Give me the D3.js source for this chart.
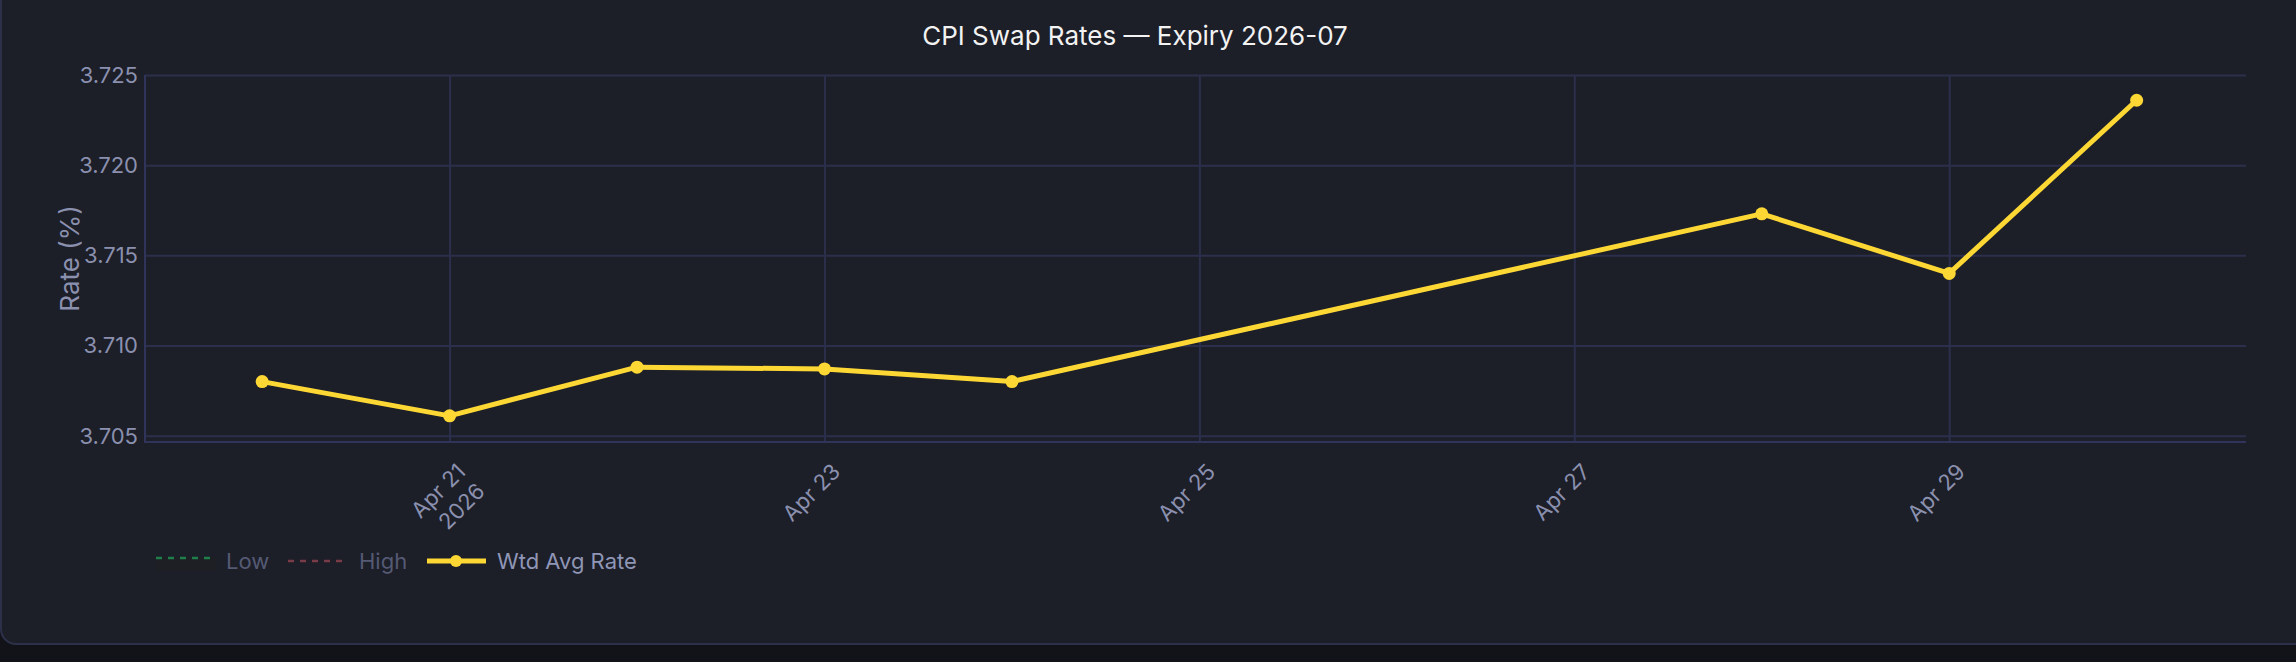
<!DOCTYPE html>
<html>
<head>
<meta charset="utf-8">
<script src="https://cdn.jsdelivr.net/npm/d3@7"></script>
<style>
  html, body { margin: 0; padding: 0; background: #121318; overflow: hidden; }
  #card {
    position: absolute; left: 0; top: -20px;
    width: 2400px; height: 665px;
    background: #1c1e28;
    border: 2px solid #2d3049;
    border-radius: 16px;
    box-sizing: border-box;
  }
  #chart { position: absolute; left: 0; top: 0; }
  text { font-family: Inter, "Noto Sans", sans-serif; }
</style>
</head>
<body>
<div id="card"></div>
<div id="chart"></div>
<script>
var dates = ['2026-04-20', '2026-04-21', '2026-04-22', '2026-04-23', '2026-04-24', '2026-04-28', '2026-04-29', '2026-04-30']
var rates = [3.7080, 3.7061, 3.7088, 3.7087, 3.7080, 3.7173, 3.7140, 3.7236]

var yTicks = [3.705, 3.710, 3.715, 3.720, 3.725]
var xTicks = ['2026-04-21', '2026-04-23', '2026-04-25', '2026-04-27', '2026-04-29']

var legendNames = ['Low', 'High', 'Wtd Avg Rate']

var W = 2296, H = 662
var margin = { top: 75, left: 145, right: 50, bottom: 220 }
var plotRight = W - margin.right
var plotBottom = H - margin.bottom

var parse = d3.timeParse('%Y-%m-%d')
var data = dates.map(function(d, i) {
	return { date: parse(d), rate: rates[i] }
})

var svg = d3.select('#chart').append('svg')
	.attr('width', W)
	.attr('height', H)

var xScale = d3.scaleTime()
	.domain([d3.timeHour.offset(parse('2026-04-20'), -14.4), d3.timeHour.offset(parse('2026-04-30'), 14.4)])
	.range([margin.left, plotRight])

var yScale = d3.scaleLinear()
	.domain([3.70465, 3.725])
	.range([plotBottom, margin.top])

var gridColor = '#2c2f4b'
var tickColor = '#8a90ae'

// title
svg.append('text')
	.attr('x', 1135)
	.attr('y', 45)
	.attr('text-anchor', 'middle')
	.attr('fill', '#f2f2f2')
	.style('font-size', '26px')
	.text('CPI Swap Rates — Expiry 2026-07')

// horizontal grid
svg.append('g')
	.attr('transform', 'translate(' + margin.left + ',0)')
	.call(d3.axisLeft(yScale).tickValues(yTicks).tickSize(-(plotRight - margin.left)).tickFormat(''))
	.call(function(g) {
		g.select('.domain').remove()
		g.selectAll('line').attr('stroke', gridColor).attr('stroke-width', 2)
	})

// vertical grid
svg.append('g')
	.attr('transform', 'translate(0,' + plotBottom + ')')
	.call(d3.axisBottom(xScale).tickValues(xTicks.map(parse)).tickSize(-(plotBottom - margin.top)).tickFormat(''))
	.call(function(g) {
		g.select('.domain').remove()
		g.selectAll('line').attr('stroke', gridColor).attr('stroke-width', 2)
	})

// axis lines
svg.append('line')
	.attr('x1', margin.left).attr('x2', margin.left)
	.attr('y1', margin.top).attr('y2', plotBottom + 1)
	.attr('stroke', '#30345a').attr('stroke-width', 2)
svg.append('line')
	.attr('x1', margin.left).attr('x2', plotRight)
	.attr('y1', plotBottom).attr('y2', plotBottom)
	.attr('stroke', '#30345a').attr('stroke-width', 2)

// y tick labels
svg.append('g').selectAll('text')
	.data(yTicks)
	.enter().append('text')
	.attr('x', 138)
	.attr('y', function(d) { return yScale(d) })
	.attr('dy', '0.36em')
	.attr('text-anchor', 'end')
	.attr('fill', tickColor)
	.style('font-size', '22px')
	.text(d3.format('.3f'))

// x tick labels, rotated
var fmt = d3.timeFormat('%b %d')
var xl = svg.append('g').selectAll('g')
	.data(xTicks.map(parse))
	.enter().append('g')
	.attr('transform', function(d) {
		return 'translate(' + (xScale(d) + 6) + ',' + (plotBottom + 20) + ') rotate(-45)'
	})
var xt = xl.append('text')
	.attr('text-anchor', 'end')
	.attr('fill', tickColor)
	.style('font-size', '22px')
xt.append('tspan')
	.attr('x', 0)
	.attr('dy', '0.72em')
	.text(function(d) { return fmt(d) })
xt.filter(function(d, i) { return i == 0 })
	.append('tspan')
	.attr('x', 0)
	.attr('dy', '1.25em')
	.text('2026')

// y axis title
svg.append('text')
	.attr('transform', 'translate(79,' + ((margin.top + plotBottom) / 2) + ') rotate(-90)')
	.attr('text-anchor', 'middle')
	.attr('fill', tickColor)
	.style('font-size', '26px')
	.text('Rate (%)')

// line
var line = d3.line()
	.x(function(d) { return xScale(d.date) })
	.y(function(d) { return yScale(d.rate) })

svg.append('path')
	.datum(data)
	.attr('fill', 'none')
	.attr('stroke', '#fdd835')
	.attr('stroke-width', 5)
	.attr('stroke-linejoin', 'round')
	.attr('d', line)

svg.append('g').selectAll('circle')
	.data(data)
	.enter().append('circle')
	.attr('cx', function(d) { return xScale(d.date) })
	.attr('cy', function(d) { return yScale(d.rate) })
	.attr('r', 6.5)
	.attr('fill', '#fdd835')

// legend
var ly = 561
var legend = svg.append('g')
legend.append('rect')
	.attr('x', 156).attr('y', ly - 4).attr('width', 60).attr('height', 14)
	.attr('fill', '#1e1f24')
legend.append('line')
	.attr('x1', 156).attr('x2', 211).attr('y1', ly - 3).attr('y2', ly - 3)
	.attr('stroke', '#1f7f4b').attr('stroke-width', 2.5).attr('stroke-dasharray', '6,6')
legend.append('text')
	.attr('x', 226).attr('y', ly).attr('dy', '0.36em')
	.attr('fill', '#555a74').style('font-size', '22px')
	.text(legendNames[0])
legend.append('line')
	.attr('x1', 288).attr('x2', 343).attr('y1', ly).attr('y2', ly)
	.attr('stroke', '#7a3b49').attr('stroke-width', 2.5).attr('stroke-dasharray', '6,6')
legend.append('text')
	.attr('x', 359).attr('y', ly).attr('dy', '0.36em')
	.attr('fill', '#555a74').style('font-size', '22px')
	.text(legendNames[1])
legend.append('line')
	.attr('x1', 427).attr('x2', 486).attr('y1', ly).attr('y2', ly)
	.attr('stroke', '#fdd835').attr('stroke-width', 5)
legend.append('circle')
	.attr('cx', 456).attr('cy', ly).attr('r', 6)
	.attr('fill', '#fdd835')
legend.append('text')
	.attr('x', 497).attr('y', ly).attr('dy', '0.36em')
	.attr('fill', '#8f96b6').style('font-size', '22px')
	.text(legendNames[2])
</script>
</body>
</html>
